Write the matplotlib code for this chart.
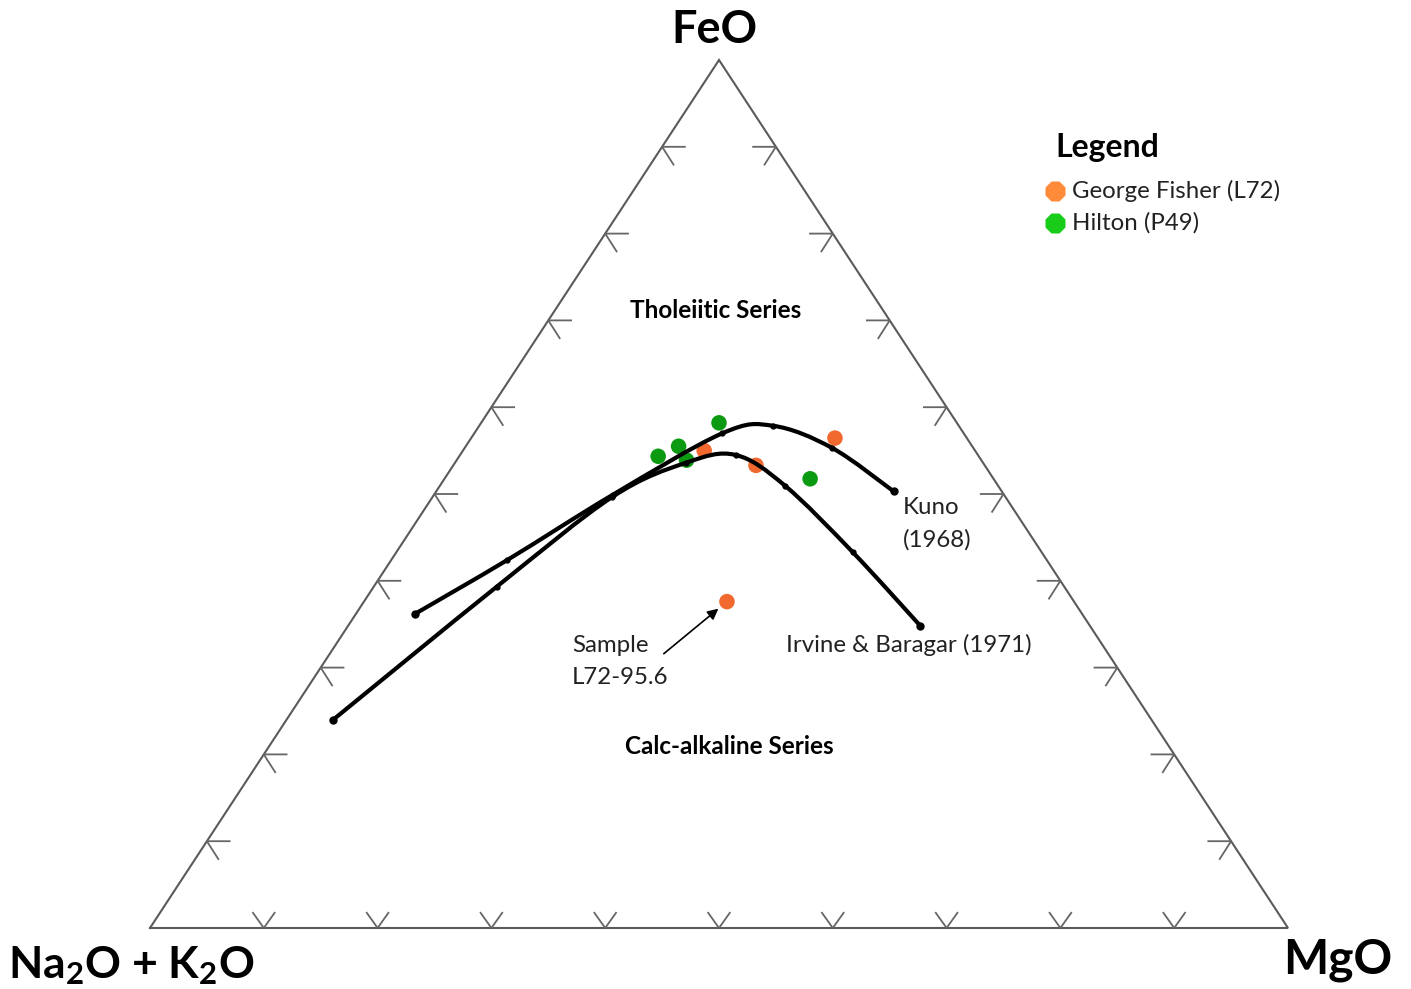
import matplotlib
matplotlib.use('Agg')
import matplotlib.pyplot as plt
import numpy as np
from matplotlib.path import Path
from matplotlib.patches import PathPatch

plt.rcParams['font.family'] = ['Lato', 'DejaVu Sans']
plt.rcParams['mathtext.default'] = 'regular'

# ---- data (ternary percentages: FeO, MgO, Na2O+K2O) ----
kuno_feo = [36.2, 42.4, 49.9, 57.0, 57.8, 55.3, 50.3]
kuno_mgo = [5.2, 10.2, 15.7, 21.8, 25.8, 32.3, 40.2]
kuno_alk = [58.6, 47.4, 34.4, 21.2, 16.3, 12.4, 9.5]

irvine_feo = [24.0, 39.3, 49.7, 53.6, 54.5, 50.9, 43.3, 34.8]
irvine_mgo = [4.1, 10.8, 15.8, 20.3, 24.2, 30.3, 40.1, 50.3]
irvine_alk = [71.9, 49.9, 34.6, 26.1, 21.3, 18.7, 16.6, 14.9]

gf_feo = [55.0, 53.3, 56.5, 37.6]
gf_mgo = [21.2, 26.6, 32.0, 31.9]
gf_alk = [23.8, 20.1, 11.6, 30.5]

hilton_feo = [53.9, 54.4, 55.5, 58.2, 51.7]
hilton_mgo = [20.2, 17.5, 18.7, 20.9, 32.1]
hilton_alk = [25.9, 28.2, 25.8, 20.9, 16.1]

tick_fracs = [0.1, 0.2, 0.3, 0.4, 0.5, 0.6, 0.7, 0.8, 0.9]

series_names = ["George Fisher (L72)", "Hilton (P49)"]

W, H = 1411, 989
fig = plt.figure(figsize=(W / 100, H / 100), dpi=100)
ax = fig.add_axes([150 / W, 61 / H, 1138 / W, 868 / H])
ax.set_xlim(0, 1)
ax.set_ylim(0, 1)
ax.axis('off')

ratio = 868 / 1138  # pixel aspect of axes (y/x)


def tern(feo, mgo, alk):
    feo = np.asarray(feo, float); mgo = np.asarray(mgo, float); alk = np.asarray(alk, float)
    tot = feo + mgo + alk
    f = feo / tot
    m = mgo / tot
    return m + f / 2, f


def fpx(x, y):
    return x / W, 1 - y / H


# triangle
edge_col = '#5a5a5a'
ax.plot([0, 1, 0.5, 0], [0, 0, 1, 0], color=edge_col, lw=1.5, clip_on=False,
        solid_joinstyle='miter')

# ticks
tick_col = '#666666'
tlw = 1.3
for t in tick_fracs:
    # bottom "V"
    ax.plot([t - 0.0095, t, t + 0.0095], [0.0175, 0, 0.0175], color=tick_col, lw=tlw)
    # left edge "<"
    lx, ly = t / 2, t
    ax.plot([lx + 0.0200, lx, lx + 0.0100], [ly, ly, ly - 0.0205], color=tick_col, lw=tlw)
    # right edge ">"
    rx, ry = 1 - t / 2, t
    ax.plot([rx - 0.0200, rx, rx - 0.0100], [ry, ry, ry - 0.0205], color=tick_col, lw=tlw)


def smooth_path(xs, ys):
    P = np.column_stack([xs, np.asarray(ys) * ratio])
    n = len(P)
    verts = [P[0]]
    codes = [Path.MOVETO]
    for i in range(n - 1):
        p0 = P[i - 1] if i > 0 else P[i]
        p1 = P[i]
        p2 = P[i + 1]
        p3 = P[i + 2] if i + 2 < n else P[i + 1]
        c1 = p1 + (p2 - p0) / 6
        c2 = p2 - (p3 - p1) / 6
        verts += [c1, c2, p2]
        codes += [Path.CURVE4] * 3
    verts = np.array(verts)
    verts[:, 1] /= ratio
    return Path(verts, codes)


# scatter points (below curves)
gx, gy = tern(gf_feo, gf_mgo, gf_alk)
hx, hy = tern(hilton_feo, hilton_mgo, hilton_alk)
ax.scatter(hx, hy, s=125, color='#0c9a12', edgecolors='none', zorder=2)
ax.scatter(gx, gy, s=125, color='#f2692f', edgecolors='none', zorder=2)

# curves
for feo, mgo, alk in [(kuno_feo, kuno_mgo, kuno_alk), (irvine_feo, irvine_mgo, irvine_alk)]:
    x, y = tern(feo, mgo, alk)
    ax.add_patch(PathPatch(smooth_path(x, y), facecolor='none', edgecolor='black',
                           lw=3.0, capstyle='round', zorder=3))
    ax.plot(x, y, 'o', ms=3.5, color='black', zorder=4)
    ax.plot([x[0], x[-1]], [y[0], y[-1]], 'o', ms=5, color='black', zorder=4)

# arrow to sample L72-95.6
ax.annotate('', xy=(gx[3], gy[3]), xytext=(-45.5, -37.5), textcoords='offset points',
            arrowprops=dict(arrowstyle='-|>', color='black', lw=1.2, mutation_scale=16,
                            shrinkA=0, shrinkB=8), zorder=5)

# vertex labels
fig.text(*fpx(714, 30), 'FeO', ha='center', va='center', fontsize=32.5, fontweight='bold')
fig.text(*fpx(131, 966), 'Na$_2$O + K$_2$O', ha='center', va='center', fontsize=32,
         fontweight='bold')
fig.text(*fpx(1338, 960), 'MgO', ha='center', va='center', fontsize=34.5, fontweight='bold')

# field labels
fig.text(*fpx(716, 311), 'Tholeiitic Series', ha='center', va='center', fontsize=17.5,
         fontweight='bold')
fig.text(*fpx(729, 746), 'Calc-alkaline Series', ha='center', va='center', fontsize=17.5,
         fontweight='bold')

# curve labels
lab_col = '#222222'
fs = 17.3
fig.text(*fpx(903, 508), 'Kuno', ha='left', va='center', fontsize=fs, color=lab_col)
fig.text(*fpx(903, 540), '(1968)', ha='left', va='center', fontsize=fs, color=lab_col)
fig.text(*fpx(786, 645), 'Irvine & Baragar (1971)', ha='left', va='center', fontsize=fs,
         color=lab_col)
fig.text(*fpx(572, 646), 'Sample', ha='left', va='center', fontsize=fs, color=lab_col)
fig.text(*fpx(572, 678), 'L72-95.6', ha='left', va='center', fontsize=fs, color=lab_col)

# legend
fig.text(*fpx(1055, 147), 'Legend', ha='left', va='center', fontsize=23, fontweight='bold')
leg_cols = ['#ff8a3a', '#19cc19']
leg_y = [191, 223]
for name, c, yy in zip(series_names, leg_cols, leg_y):
    mx, my = fpx(1055, yy)
    fig.lines.append(plt.Line2D([mx], [my], marker='8', ms=15, color=c, mec='none',
                                transform=fig.transFigure))
    fig.text(*fpx(1072, yy), name, ha='left', va='center', fontsize=fs, color=lab_col)

fig.savefig('out.png', dpi=100, facecolor='white')
